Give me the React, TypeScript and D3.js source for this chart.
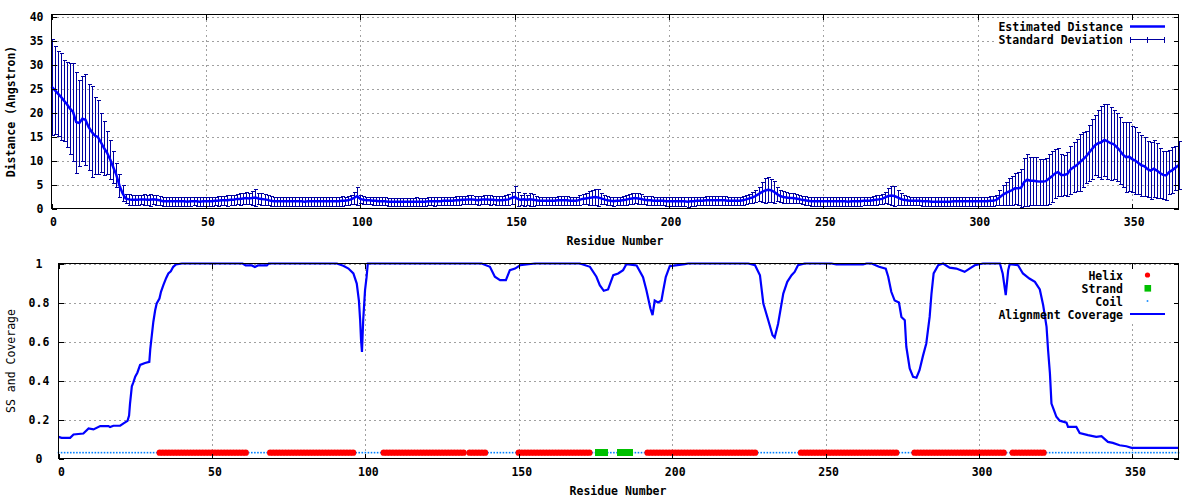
import React from 'react';
import * as d3 from 'd3';

// ---------- DATA ----------
// Estimated distance (Angstrom) per residue 0..365
const DISTANCE: number[] = [
  25.4, 24.7, 24.0, 23.3, 22.5, 21.7, 20.8, 20.1, 18.0, 17.8,
  18.7, 18.5, 17.0, 16.0, 15.2, 14.9, 13.8, 12.6, 11.6, 10.2,
  8.6, 7.0, 4.8, 3.2, 2.1, 1.9, 1.8, 1.8, 1.8, 1.9,
  1.9, 1.8, 1.8, 1.9, 1.8, 1.7, 1.5, 1.5, 1.5, 1.5,
  1.5, 1.5, 1.5, 1.5, 1.4, 1.5, 1.5, 1.5, 1.4, 1.5,
  1.5, 1.5, 1.5, 1.6, 1.6, 1.7, 1.7, 1.7, 1.8, 1.8,
  2.0, 2.0, 2.1, 2.2, 2.1, 2.2, 2.3, 2.1, 2.0, 1.9,
  1.8, 1.6, 1.5, 1.5, 1.5, 1.5, 1.5, 1.5, 1.5, 1.5,
  1.5, 1.5, 1.4, 1.5, 1.5, 1.5, 1.5, 1.5, 1.5, 1.5,
  1.5, 1.5, 1.5, 1.5, 1.6, 1.6, 1.7, 1.9, 2.2, 2.6,
  2.0, 1.8, 1.7, 1.7, 1.6, 1.6, 1.5, 1.5, 1.5, 1.4,
  1.4, 1.4, 1.4, 1.4, 1.4, 1.4, 1.4, 1.4, 1.4, 1.4,
  1.4, 1.4, 1.5, 1.5, 1.5, 1.5, 1.5, 1.6, 1.6, 1.6,
  1.6, 1.7, 1.7, 1.8, 1.8, 1.9, 1.9, 1.8, 1.7, 1.8,
  1.9, 1.9, 1.8, 1.8, 1.7, 1.7, 1.7, 1.8, 1.9, 2.2,
  2.4, 2.0, 1.8, 1.9, 1.8, 1.9, 1.8, 1.7, 1.6, 1.6,
  1.6, 1.6, 1.6, 1.6, 1.7, 1.7, 1.7, 1.7, 1.6, 1.6,
  1.6, 1.8, 2.0, 2.1, 2.2, 2.3, 2.4, 2.3, 2.1, 1.9,
  1.7, 1.6, 1.5, 1.6, 1.6, 1.7, 1.8, 2.0, 2.1, 2.2,
  2.1, 2.0, 1.8, 1.7, 1.7, 1.6, 1.6, 1.6, 1.6, 1.5,
  1.5, 1.5, 1.5, 1.5, 1.5, 1.5, 1.4, 1.5, 1.5, 1.6,
  1.6, 1.6, 1.7, 1.7, 1.7, 1.7, 1.7, 1.7, 1.7, 1.6,
  1.6, 1.6, 1.6, 1.6, 1.7, 1.9, 2.1, 2.3, 2.6, 3.0,
  3.4, 3.7, 3.9, 3.8, 3.5, 3.0, 2.6, 2.4, 2.3, 2.2,
  2.2, 2.1, 2.0, 1.8, 1.7, 1.6, 1.5, 1.5, 1.5, 1.5,
  1.5, 1.5, 1.5, 1.5, 1.5, 1.5, 1.5, 1.5, 1.4, 1.5,
  1.5, 1.5, 1.5, 1.6, 1.6, 1.6, 1.7, 1.8, 1.9, 2.0,
  2.3, 2.6, 2.7, 2.6, 2.3, 2.0, 1.8, 1.7, 1.6, 1.6,
  1.6, 1.6, 1.5, 1.5, 1.5, 1.4, 1.4, 1.4, 1.4, 1.4,
  1.4, 1.4, 1.5, 1.5, 1.5, 1.5, 1.5, 1.5, 1.5, 1.5,
  1.5, 1.5, 1.5, 1.5, 1.6, 1.6, 1.8, 2.3, 2.8, 3.2,
  3.5, 3.8, 4.2, 4.2, 4.3, 5.5, 6.0, 5.8, 5.8, 5.7,
  5.6, 5.6, 5.7, 6.2, 6.7, 7.3, 7.6, 7.0, 7.0, 7.2,
  8.1, 8.6, 9.0, 9.6, 10.2, 10.8, 11.6, 12.4, 13.2, 13.6,
  13.8, 14.3, 14.0, 13.6, 13.4, 12.8, 12.1, 11.2, 10.7, 10.8,
  10.3, 10.0, 9.5, 9.0, 8.8, 8.2, 7.9, 8.3, 7.9, 7.4,
  7.0, 6.9, 7.6, 8.0, 8.5, 9.0,
];

// Standard deviation per residue 0..365
const STD_DEV: number[] = [
  10.0, 9.1, 8.8, 9.1, 8.5, 8.8, 9.5, 10.2, 10.5, 8.9,
  8.9, 9.5, 9.0, 9.5, 8.0, 7.8, 6.1, 5.7, 4.5, 4.0,
  3.3, 2.5, 2.3, 1.6, 0.9, 1.1, 1.0, 1.0, 1.1, 1.0,
  1.2, 1.0, 1.3, 1.0, 1.0, 0.9, 0.9, 0.9, 0.9, 0.9,
  0.9, 0.9, 0.9, 0.9, 0.9, 0.9, 0.8, 0.9, 0.9, 0.9,
  0.9, 0.9, 0.9, 0.9, 1.0, 1.0, 1.0, 1.1, 1.0, 1.0,
  1.1, 1.2, 1.2, 1.3, 1.2, 1.4, 1.8, 1.2, 1.2, 1.1,
  1.0, 1.0, 0.9, 0.9, 0.9, 0.9, 0.9, 0.9, 0.9, 0.9,
  0.9, 0.9, 0.9, 0.9, 0.9, 0.9, 0.9, 0.9, 0.9, 0.9,
  0.9, 0.9, 0.9, 0.9, 1.0, 0.9, 1.0, 1.0, 1.3, 1.9,
  0.8, 0.8, 0.8, 0.8, 0.8, 0.8, 0.8, 0.8, 0.8, 0.8,
  0.8, 0.8, 0.8, 0.8, 0.8, 0.8, 0.8, 0.8, 0.9, 0.8,
  0.8, 0.8, 0.8, 0.8, 0.9, 0.8, 0.8, 0.9, 0.8, 0.8,
  0.8, 0.9, 0.9, 0.9, 0.9, 1.0, 1.0, 0.9, 0.9, 0.9,
  0.9, 1.0, 1.0, 0.9, 0.9, 1.0, 1.0, 1.0, 1.1, 1.3,
  2.2, 1.4, 1.1, 1.3, 1.0, 1.3, 1.2, 1.0, 0.9, 0.9,
  0.9, 0.9, 0.9, 0.9, 1.0, 1.0, 0.9, 0.9, 0.9, 0.9,
  0.9, 1.0, 1.1, 1.2, 1.4, 1.5, 1.6, 1.7, 1.1, 1.0,
  0.9, 0.9, 0.9, 0.9, 0.9, 1.0, 1.0, 1.1, 1.2, 1.1,
  1.2, 1.0, 0.9, 0.9, 0.9, 0.9, 0.9, 0.9, 0.9, 0.9,
  0.9, 0.9, 0.9, 0.9, 0.9, 0.9, 1.1, 0.9, 0.9, 0.9,
  0.9, 0.9, 0.9, 0.9, 0.9, 0.9, 0.9, 0.9, 0.9, 0.9,
  0.9, 0.9, 0.9, 0.9, 0.9, 1.0, 1.0, 1.1, 1.2, 1.5,
  2.1, 2.6, 2.6, 2.4, 2.3, 1.5, 1.3, 1.2, 1.1, 1.0,
  1.0, 1.0, 0.9, 0.9, 0.9, 0.9, 0.9, 0.9, 0.9, 0.9,
  0.9, 0.9, 0.9, 0.9, 0.9, 0.9, 0.9, 0.9, 0.9, 0.9,
  0.9, 0.9, 0.9, 0.9, 0.9, 0.9, 1.0, 1.0, 1.0, 1.0,
  1.2, 1.6, 1.9, 2.0, 1.5, 1.2, 1.0, 1.0, 0.9, 0.9,
  0.9, 0.9, 0.9, 0.9, 0.9, 0.9, 0.9, 0.9, 0.9, 0.9,
  0.9, 0.9, 0.9, 0.9, 0.9, 0.9, 0.9, 0.9, 0.9, 0.9,
  0.9, 0.9, 0.9, 0.9, 1.0, 1.0, 1.1, 1.6, 2.0, 2.4,
  2.8, 3.0, 3.2, 3.4, 3.9, 5.0, 5.4, 5.0, 5.0, 5.0,
  4.8, 4.8, 4.9, 5.2, 5.3, 5.1, 5.0, 4.4, 4.2, 4.5,
  5.0, 5.2, 5.4, 6.0, 5.8, 5.4, 5.8, 6.2, 6.3, 7.0,
  7.6, 7.5, 7.8, 7.6, 7.2, 7.0, 6.9, 6.8, 7.3, 7.2,
  6.8, 6.9, 6.5, 6.4, 6.1, 5.9, 5.9, 5.9, 5.8, 5.2,
  5.0, 5.1, 4.6, 4.8, 4.6, 5.0,
];

// Alignment coverage: [residue, coverage] vertices
const COVERAGE: [number, number][] = [
  [0, 0.111], [1, 0.106], [3.8, 0.106], [4.9, 0.123], [8.1, 0.128], [9.8, 0.154], [11.4, 0.149],
  [13.6, 0.166], [16.3, 0.166], [16.8, 0.161], [17.9, 0.168], [20.1, 0.168], [21.2, 0.18],
  [22.5, 0.193], [23, 0.22], [23.3, 0.28], [23.9, 0.37], [24.4, 0.39], [25, 0.42], [25.7, 0.44],
  [26.6, 0.48], [28.2, 0.49], [29.6, 0.496], [29.9, 0.56], [30.4, 0.63], [30.9, 0.7], [31.5, 0.76],
  [32, 0.795], [32.9, 0.82], [33.4, 0.855], [34.2, 0.89], [35.1, 0.926], [35.8, 0.949], [36.6, 0.96],
  [37.4, 0.983], [38.3, 0.995], [40.2, 1.0],
  [60, 1.0], [61, 0.99], [63, 0.99], [64, 0.982], [65, 0.99], [67.9, 0.99], [68.5, 1.0],
  [90.7, 1.0], [92.8, 0.988], [94.5, 0.974], [96.1, 0.949], [97.2, 0.897], [97.9, 0.81],
  [98.3, 0.71], [98.6, 0.607], [98.9, 0.547], [99.3, 0.71], [99.9, 0.863], [100.4, 0.93], [100.8, 1.0],
  [137.9, 1.0], [140.6, 0.983], [142.2, 0.932], [143.9, 0.915], [145.8, 0.915], [147.1, 0.966],
  [148.8, 0.974], [150.4, 0.991], [155.3, 1.0],
  [169.9, 1.0], [173.2, 0.983], [175.3, 0.932], [176.4, 0.889], [177.7, 0.86], [179.1, 0.867],
  [180.8, 0.94], [182.4, 0.949], [184, 0.966], [185.1, 0.997], [188.4, 0.99], [190.5, 0.93],
  [191.6, 0.863], [192.9, 0.769], [193.6, 0.735], [194.3, 0.81], [195.4, 0.8], [196.5, 0.81],
  [197, 0.855], [197.9, 0.93], [199.2, 0.986], [204.1, 0.997], [205.2, 1.0],
  [224.8, 1.0], [227, 0.991], [228.6, 0.94], [229.7, 0.795], [231.3, 0.709], [232.7, 0.632],
  [233.4, 0.62], [234.5, 0.69], [236.2, 0.846], [237.5, 0.906], [238.9, 0.94], [239.9, 0.957],
  [241, 0.991], [243.2, 1.0], [251.9, 1.0], [253.5, 0.995], [262.2, 0.995], [263.3, 1.0], [265, 1.0],
  [267.4, 0.983], [269.6, 0.974], [270.4, 0.932], [271.4, 0.855], [272.5, 0.81], [273.9, 0.8],
  [274.7, 0.726], [275.8, 0.709], [276.3, 0.573], [277.4, 0.462], [278.5, 0.419], [279.6, 0.414],
  [280.6, 0.453], [281.7, 0.525], [282.8, 0.59], [283.9, 0.726], [284.5, 0.846], [285.2, 0.949],
  [286.7, 0.991], [288.3, 1.0], [290.4, 0.979], [292.6, 0.974], [295.3, 0.957], [296.9, 0.974],
  [298.6, 0.991], [301.3, 1.0], [306.8, 1.0], [307.7, 0.949], [308.7, 0.838], [309.5, 0.966],
  [310, 0.997], [312.7, 0.991], [314.3, 0.949], [316.4, 0.923], [318.2, 0.906], [319.8, 0.867],
  [320.9, 0.786], [322, 0.675], [322.5, 0.555], [323.1, 0.436], [323.6, 0.282], [324.4, 0.248],
  [325.2, 0.214], [326.3, 0.194], [328.5, 0.184], [329, 0.162], [331.7, 0.162], [332.8, 0.131],
  [335.5, 0.12], [338.2, 0.111], [339.9, 0.114], [342, 0.085], [343.6, 0.08], [345.8, 0.068],
  [348, 0.063], [349.7, 0.055], [365, 0.055],
];

// Secondary structure (residue ranges, inclusive)
const HELIX_RANGES: [number, number][] = [
  [33, 61], [69, 96], [106, 132], [134, 139], [150, 173], [192, 227], [242, 273], [279, 308], [311, 321],
];
const STRAND_RANGES: [number, number][] = [[176, 178], [183, 186]];
const SS_LEVEL = 0.03;
const RESIDUE_MAX = 365;

const X_TICKS = [0, 50, 100, 150, 200, 250, 300, 350];
const TOP_Y_TICKS = [0, 5, 10, 15, 20, 25, 30, 35, 40];
const BOT_Y_TICKS = [0, 0.2, 0.4, 0.6, 0.8, 1];
const BOT_Y_LABELS = ['0', '0.2', '0.4', '0.6', '0.8', '1'];

const FONT = '"DejaVu Sans Mono", "Liberation Mono", monospace';
const GRID = '#a0a0a0';
const LINE_BLUE = '#0000ff';
const BAR_BLUE = '#0000a0';
const HELIX_RED = '#ff0000';
const STRAND_GREEN = '#00c000';
const COIL_BLUE = '#0080ff';

export default function App() {
  const W = 1200;
  const H = 500;

  // top panel
  const tL = 51.5, tR = 1178.5, tT = 14.5, tB = 208.5;
  const xT = d3.scaleLinear().domain([0, RESIDUE_MAX]).range([tL, tR]);
  const yT = d3.scaleLinear().domain([0, 40]).range([tB, 16.5]);

  // bottom panel
  const bL = 58.5, bR = 1178.5, bT = 263.5, bB = 458.5;
  const xB = d3.scaleLinear().domain([0, RESIDUE_MAX]).range([bL, bR]);
  const yB = d3.scaleLinear().domain([0, 1]).range([bB, bT]);

  const n = Math.min(DISTANCE.length, STD_DEV.length);
  const distPts: [number, number][] = [];
  for (let i = 0; i < n; i++) distPts.push([i, DISTANCE[i]]);
  const distLine = d3.line<[number, number]>().x(d => xT(d[0])).y(d => yT(d[1]))(distPts) || '';
  const covLine = d3.line<[number, number]>().x(d => xB(d[0])).y(d => yB(d[1]))(COVERAGE) || '';

  const ssType: string[] = [];
  for (let r = 0; r <= RESIDUE_MAX; r++) ssType.push('C');
  HELIX_RANGES.forEach(([a, b]) => { for (let r = a; r <= b; r++) ssType[r] = 'H'; });
  STRAND_RANGES.forEach(([a, b]) => { for (let r = a; r <= b; r++) ssType[r] = 'E'; });

  const tick = 5;
  const textStyle: React.CSSProperties = { fontFamily: FONT, fontSize: '11.5px', fontWeight: 'bold' };

  const frame = (L: number, R: number, T: number, B: number, xs: (v: number) => number, ys: (v: number) => number, yTicks: number[]) => (
    <g shapeRendering="crispEdges" stroke="#000" strokeWidth={1} fill="none">
      <rect x={L} y={T} width={R - L} height={B - T} />
      {X_TICKS.map(v => (
        <g key={'xt' + v}>
          <line x1={Math.round(xs(v)) + 0.5} x2={Math.round(xs(v)) + 0.5} y1={B} y2={B - tick} />
          <line x1={Math.round(xs(v)) + 0.5} x2={Math.round(xs(v)) + 0.5} y1={T} y2={T + tick} />
        </g>
      ))}
      {yTicks.map(v => (
        <g key={'yt' + v}>
          <line x1={L} x2={L + tick} y1={Math.round(ys(v)) + 0.5} y2={Math.round(ys(v)) + 0.5} />
          <line x1={R} x2={R - tick} y1={Math.round(ys(v)) + 0.5} y2={Math.round(ys(v)) + 0.5} />
        </g>
      ))}
    </g>
  );

  const grid = (L: number, R: number, T: number, B: number, xs: (v: number) => number, ys: (v: number) => number, yTicks: number[]) => (
    <g shapeRendering="crispEdges" stroke={GRID} strokeWidth={1} strokeDasharray="2,3" fill="none">
      {X_TICKS.filter(v => v > 0).map(v => (
        <line key={'gx' + v} x1={Math.round(xs(v)) + 0.5} x2={Math.round(xs(v)) + 0.5} y1={T} y2={B} />
      ))}
      {yTicks.filter(v => v > 0).map(v => (
        <line key={'gy' + v} x1={L} x2={R} y1={Math.round(ys(v)) + 0.5} y2={Math.round(ys(v)) + 0.5} />
      ))}
    </g>
  );

  return (
    <svg width={W} height={H} viewBox={`0 0 ${W} ${H}`} style={{ position: 'absolute', left: 0, top: 0, background: '#fff' }}>
      <rect x={0} y={0} width={W} height={H} fill="#fff" />

      {/* ================= TOP PANEL ================= */}
      {grid(tL, tR, tT, tB, xT, yT, TOP_Y_TICKS)}
      <rect x={995} y={18} width={181} height={30} fill="#fff" />
      <g stroke={BAR_BLUE} strokeWidth={1} shapeRendering="crispEdges">
        {distPts.map(([r, d], i) => {
          const s = STD_DEV[i];
          const x = Math.round(xT(r)) + 0.5;
          const y1 = yT(d - s), y2 = yT(d + s);
          return (
            <g key={'eb' + i}>
              <line x1={x} x2={x} y1={y1} y2={y2} />
              <line x1={x - 2} x2={x + 2} y1={Math.round(y1) + 0.5} y2={Math.round(y1) + 0.5} />
              <line x1={x - 2} x2={x + 2} y1={Math.round(y2) + 0.5} y2={Math.round(y2) + 0.5} />
            </g>
          );
        })}
      </g>
      <path d={distLine} fill="none" stroke={LINE_BLUE} strokeWidth={2.5} strokeLinejoin="miter" />
      {/* legend */}
      <g style={textStyle}>
        <text x={1123} y={26.5} textAnchor="end" dominantBaseline="central">Estimated Distance</text>
        <text x={1123} y={39.5} textAnchor="end" dominantBaseline="central">Standard Deviation</text>
      </g>
      <line x1={1130} x2={1165} y1={26.5} y2={26.5} stroke={LINE_BLUE} strokeWidth={2.5} />
      <g stroke={BAR_BLUE} strokeWidth={1} shapeRendering="crispEdges">
        <line x1={1130} x2={1165} y1={39.5} y2={39.5} />
        <line x1={1130.5} x2={1130.5} y1={36.5} y2={42.5} />
        <line x1={1164.5} x2={1164.5} y1={36.5} y2={42.5} />
        <line x1={1147.5} x2={1147.5} y1={36.5} y2={42.5} />
      </g>
      {frame(tL, tR, tT, tB, xT, yT, TOP_Y_TICKS)}
      <g style={textStyle}>
        {TOP_Y_TICKS.map(v => (
          <text key={'tyl' + v} x={43.5} y={yT(v)} textAnchor="end" dominantBaseline="central">{v}</text>
        ))}
        {X_TICKS.map(v => (
          <text key={'txl' + v} x={xT(v) + 2} y={221.7} textAnchor="middle" dominantBaseline="central">{v}</text>
        ))}
        <text x={615} y={240.7} textAnchor="middle" dominantBaseline="central">Residue Number</text>
        <text transform="translate(11,111.5) rotate(-90)" textAnchor="middle" dominantBaseline="central">Distance (Angstron)</text>
      </g>

      {/* ================= BOTTOM PANEL ================= */}
      {grid(bL, bR, bT, bB, xB, yB, BOT_Y_TICKS)}
      <rect x={997} y={265} width={179} height={56} fill="#fff" />
      <g fill={COIL_BLUE}>
        {ssType.map((t, r) => t === 'C' ? (
          <rect key={'c' + r} x={xB(r) - 0.8} y={yB(SS_LEVEL) - 0.8} width={1.6} height={1.6} />
        ) : null)}
      </g>
      <g fill={HELIX_RED}>
        {ssType.map((t, r) => t === 'H' ? (
          <circle key={'h' + r} cx={xB(r)} cy={yB(SS_LEVEL)} r={3.2} />
        ) : null)}
      </g>
      <g fill={STRAND_GREEN} shapeRendering="crispEdges">
        {ssType.map((t, r) => t === 'E' ? (
          <rect key={'e' + r} x={xB(r) - 3.3} y={yB(SS_LEVEL) - 3.3} width={6.6} height={6.6} />
        ) : null)}
      </g>
      <path d={covLine} fill="none" stroke={LINE_BLUE} strokeWidth={2.2} />
      {/* legend */}
      <g style={textStyle}>
        <text x={1123} y={275.5} textAnchor="end" dominantBaseline="central">Helix</text>
        <text x={1123} y={288.5} textAnchor="end" dominantBaseline="central">Strand</text>
        <text x={1123} y={301.5} textAnchor="end" dominantBaseline="central">Coil</text>
        <text x={1123} y={314.5} textAnchor="end" dominantBaseline="central">Alignment Coverage</text>
      </g>
      <circle cx={1147.5} cy={275} r={2.6} fill={HELIX_RED} />
      <rect x={1144.5} y={285} width={6.6} height={6.6} fill={STRAND_GREEN} />
      <rect x={1146.7} y={300.2} width={1.6} height={1.6} fill={COIL_BLUE} />
      <line x1={1130} x2={1165} y1={314} y2={314} stroke={LINE_BLUE} strokeWidth={2.2} />
      {frame(bL, bR, bT, bB, xB, yB, BOT_Y_TICKS)}
      <g style={textStyle}>
        {BOT_Y_TICKS.map((v, i) => (
          <text key={'byl' + v} x={39} y={yB(v)} textAnchor="middle" dominantBaseline="central">{BOT_Y_LABELS[i]}</text>
        ))}
        {X_TICKS.map(v => (
          <text key={'bxl' + v} x={xB(v) + 3} y={471.7} textAnchor="middle" dominantBaseline="central">{v}</text>
        ))}
        <text x={618} y={490.7} textAnchor="middle" dominantBaseline="central">Residue Number</text>
      </g>
      <text transform="translate(11,361) rotate(-90)" textAnchor="middle" dominantBaseline="central"
        style={{ fontFamily: FONT, fontSize: '11.5px', fontWeight: 'normal' }}>SS and Coverage</text>
    </svg>
  );
}
